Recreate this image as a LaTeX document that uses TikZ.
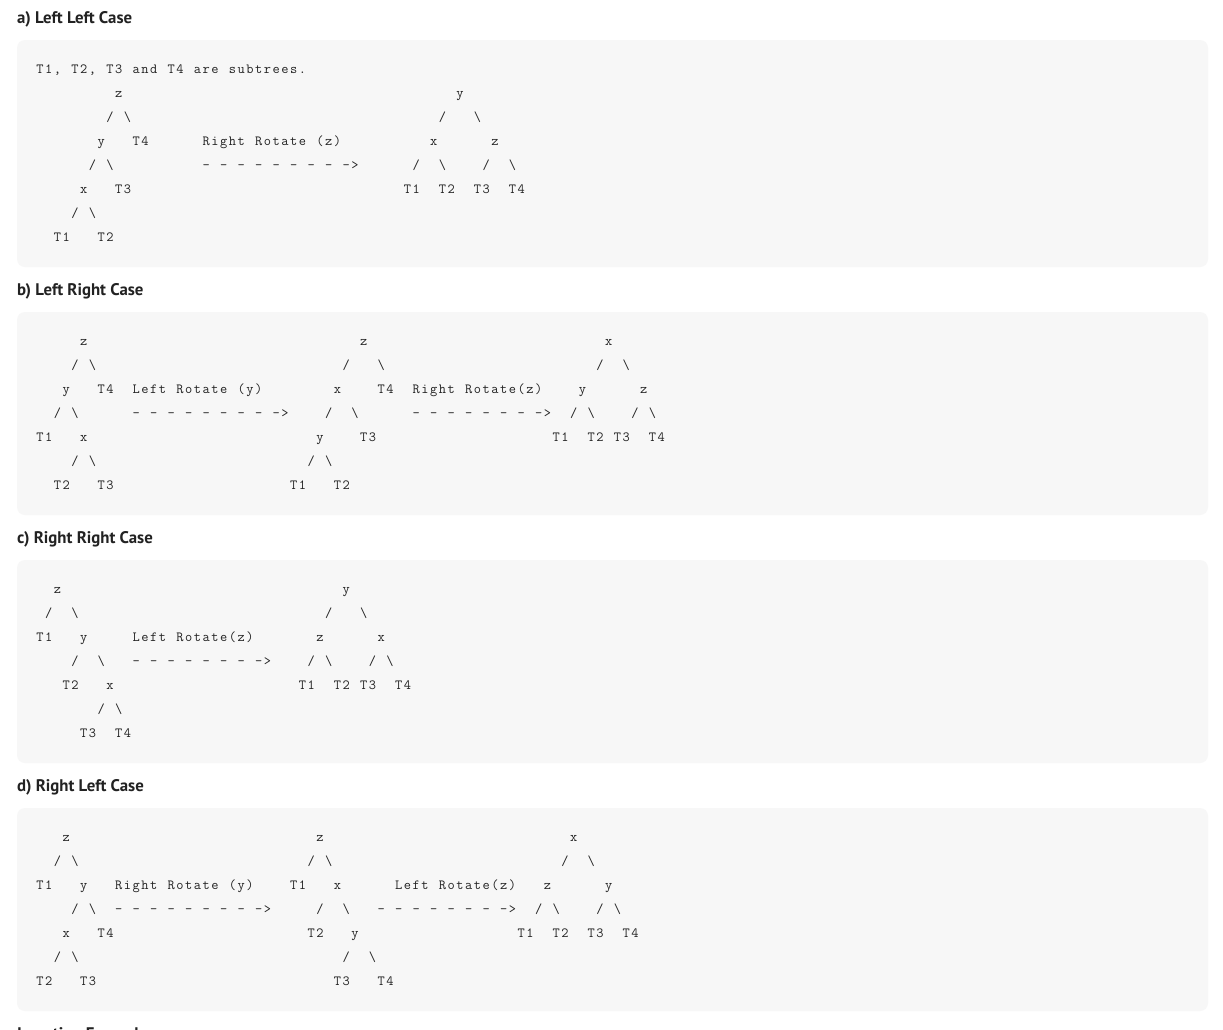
\documentclass[tikz,border=0pt]{standalone}
\usepackage{fontspec}
\newfontfamily\headfont{PT Sans}
\definecolor{boxfill}{HTML}{F7F7F7}
\definecolor{codecol}{HTML}{222222}
\definecolor{headcol}{HTML}{222222}
\newlength\cw
\setlength\cw{8.75pt}
\ExplSyntaxOn
\cs_new:Npn \mono_char:n #1
  { \makebox[\cw][c]{ \str_if_eq:nnTF {#1} {|} {\textbackslash} {#1} } }
\NewDocumentCommand\mono{m}{ \str_map_inline:nn {#1} { \mono_char:n {##1} } }
\ExplSyntaxOff
\def\xo{35.5}
\def\secy{40}
\def\secname{a}
\newcommand\tk[3]{\node[code] (\secname-#1-#2) at ({\xo+#2*8.75},{\secy+33+24.1*#1}) {\mono{#3}};}
\tikzset{
  code/.style={anchor=base west, inner sep=0pt, outer sep=0pt, text=codecol,
    font=\ttfamily\fontsize{14}{16}\selectfont},
  head/.style={anchor=base west, inner sep=0pt, outer sep=0pt, text=headcol,
    font=\headfont\bfseries\fontsize{16.8}{19}\selectfont},
  codebox/.style={fill=boxfill, draw=none, rounded corners=8pt}
}
\begin{document}
\begin{tikzpicture}[x=1pt,y=-1pt]
\useasboundingbox[fill=white] (0,0) rectangle (1223,1029);
% boxes
\path[codebox] (17,40) rectangle (1208,267);
\path[codebox] (17,312) rectangle (1208,515);
\path[codebox] (17,560) rectangle (1208,763);
\path[codebox] (17,808) rectangle (1208,1011);
% headings
\node[head] (ha) at (17,23) {a) Left Left Case};
\node[head] (hb) at (17,295) {b) Left Right Case};
\node[head] (hc) at (17,543) {c) Right Right Case};
\node[head] (hd) at (17,791) {d) Right Left Case};
\node[head] (he) at (17,1039) {Insertion Examples};
% ---------- a ----------
\def\secy{40}\def\secname{a}
\tk{0}{0}{T1, T2, T3 and T4 are subtrees.}
\tk{1}{9}{z}\tk{1}{48}{y}
\tk{2}{8}{/}\tk{2}{10}{|}\tk{2}{46}{/}\tk{2}{50}{|}
\tk{3}{7}{y}\tk{3}{11}{T4}\tk{3}{19}{Right Rotate (z)}\tk{3}{45}{x}\tk{3}{52}{z}
\tk{4}{6}{/}\tk{4}{8}{|}\tk{4}{19}{- - - - - - - - ->}\tk{4}{43}{/}\tk{4}{46}{|}\tk{4}{51}{/}\tk{4}{54}{|}
\tk{5}{5}{x}\tk{5}{9}{T3}\tk{5}{42}{T1}\tk{5}{46}{T2}\tk{5}{50}{T3}\tk{5}{54}{T4}
\tk{6}{4}{/}\tk{6}{6}{|}
\tk{7}{2}{T1}\tk{7}{7}{T2}
% ---------- b ----------
\def\secy{312}\def\secname{b}
\tk{0}{5}{z}\tk{0}{37}{z}\tk{0}{65}{x}
\tk{1}{4}{/}\tk{1}{6}{|}\tk{1}{35}{/}\tk{1}{39}{|}\tk{1}{64}{/}\tk{1}{67}{|}
\tk{2}{3}{y}\tk{2}{7}{T4}\tk{2}{11}{Left Rotate (y)}\tk{2}{34}{x}\tk{2}{39}{T4}\tk{2}{43}{Right Rotate(z)}\tk{2}{62}{y}\tk{2}{69}{z}
\tk{3}{2}{/}\tk{3}{4}{|}\tk{3}{11}{- - - - - - - - ->}\tk{3}{33}{/}\tk{3}{36}{|}\tk{3}{43}{- - - - - - - ->}\tk{3}{61}{/}\tk{3}{63}{|}\tk{3}{68}{/}\tk{3}{70}{|}
\tk{4}{0}{T1}\tk{4}{5}{x}\tk{4}{32}{y}\tk{4}{37}{T3}\tk{4}{59}{T1}\tk{4}{63}{T2}\tk{4}{66}{T3}\tk{4}{70}{T4}
\tk{5}{4}{/}\tk{5}{6}{|}\tk{5}{31}{/}\tk{5}{33}{|}
\tk{6}{2}{T2}\tk{6}{7}{T3}\tk{6}{29}{T1}\tk{6}{34}{T2}
% ---------- c ----------
\def\secy{560}\def\secname{c}
\tk{0}{2}{z}\tk{0}{35}{y}
\tk{1}{1}{/}\tk{1}{4}{|}\tk{1}{33}{/}\tk{1}{37}{|}
\tk{2}{0}{T1}\tk{2}{5}{y}\tk{2}{11}{Left Rotate(z)}\tk{2}{32}{z}\tk{2}{39}{x}
\tk{3}{4}{/}\tk{3}{7}{|}\tk{3}{11}{- - - - - - - ->}\tk{3}{31}{/}\tk{3}{33}{|}\tk{3}{38}{/}\tk{3}{40}{|}
\tk{4}{3}{T2}\tk{4}{8}{x}\tk{4}{30}{T1}\tk{4}{34}{T2}\tk{4}{37}{T3}\tk{4}{41}{T4}
\tk{5}{7}{/}\tk{5}{9}{|}
\tk{6}{5}{T3}\tk{6}{9}{T4}
% ---------- d ----------
\def\secy{808}\def\secname{d}
\tk{0}{3}{z}\tk{0}{32}{z}\tk{0}{61}{x}
\tk{1}{2}{/}\tk{1}{4}{|}\tk{1}{31}{/}\tk{1}{33}{|}\tk{1}{60}{/}\tk{1}{63}{|}
\tk{2}{0}{T1}\tk{2}{5}{y}\tk{2}{9}{Right Rotate (y)}\tk{2}{29}{T1}\tk{2}{34}{x}\tk{2}{41}{Left Rotate(z)}\tk{2}{58}{z}\tk{2}{65}{y}
\tk{3}{4}{/}\tk{3}{6}{|}\tk{3}{9}{- - - - - - - - ->}\tk{3}{32}{/}\tk{3}{35}{|}\tk{3}{39}{- - - - - - - ->}\tk{3}{57}{/}\tk{3}{59}{|}\tk{3}{64}{/}\tk{3}{66}{|}
\tk{4}{3}{x}\tk{4}{7}{T4}\tk{4}{31}{T2}\tk{4}{36}{y}\tk{4}{55}{T1}\tk{4}{59}{T2}\tk{4}{63}{T3}\tk{4}{67}{T4}
\tk{5}{2}{/}\tk{5}{4}{|}\tk{5}{35}{/}\tk{5}{38}{|}
\tk{6}{0}{T2}\tk{6}{5}{T3}\tk{6}{34}{T3}\tk{6}{39}{T4}
\end{tikzpicture}
\end{document}
